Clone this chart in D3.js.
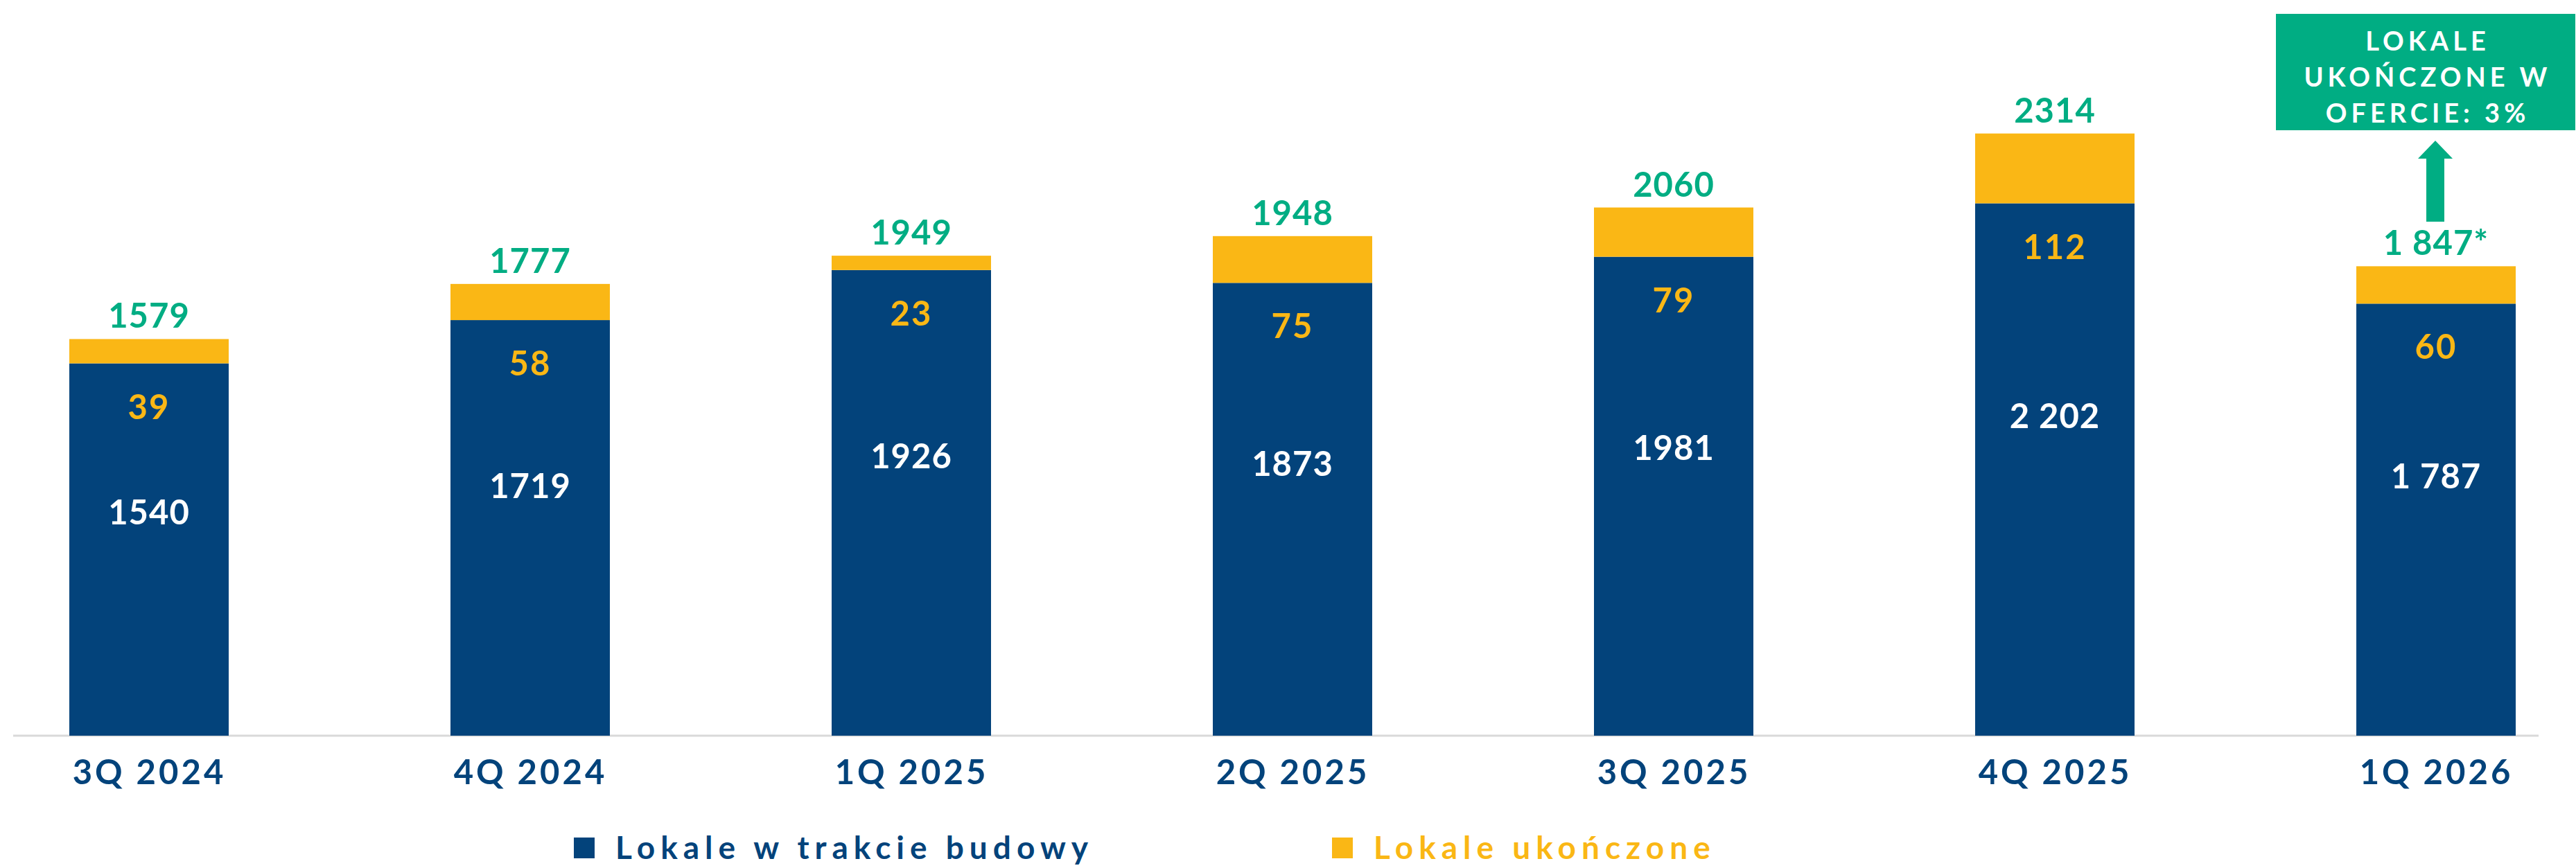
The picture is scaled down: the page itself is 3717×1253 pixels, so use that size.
<!DOCTYPE html>
<html>
<head>
<meta charset="utf-8">
<script src="https://cdn.jsdelivr.net/npm/d3@7"></script>
<style>
  body { margin: 0; background: #fff; }
  svg { display: block; font-family: Lato, "Noto Sans", sans-serif; font-weight: 700; }
</style>
</head>
<body>
<div id="chart"></div>
<script>
const categories = ["3Q 2024", "4Q 2024", "1Q 2025", "2Q 2025", "3Q 2025", "4Q 2025", "1Q 2026"];
const inProgress = [1540, 1719, 1926, 1873, 1981, 2202, 1787];
const completed = [39, 58, 23, 75, 79, 112, 60];
const totals = [1579, 1777, 1949, 1948, 2060, 2314, 1847];
const inProgressLabels = ["1540", "1719", "1926", "1873", "1981", "2 202", "1 787"];
const totalLabels = ["1579", "1777", "1949", "1948", "2060", "2314", "1 847*"];
const legendLabels = ["Lokale w trakcie budowy", "Lokale ukończone"];
const noteLines = ["LOKALE", "UKOŃCZONE W", "OFERCIE: 3%"];

const NAVY = "#03437b";
const YELLOW = "#fab715";
const GREEN = "#00ad83";

const width = 3717;
const height = 1253;
const baseY = 1062;
const barW = 230;

const svg = d3.select("#chart")
    .append("svg")
    .attr("width", width)
    .attr("height", height);

const data = categories.map((c, i) => ({
    cat: c,
    blue: inProgress[i],
    done: completed[i],
    total: totals[i],
    blueLabel: inProgressLabels[i],
    totalLabel: totalLabels[i]
}));

const x = d3.scalePoint()
    .domain(categories)
    .range([215, 3515]);

const y = d3.scaleLinear()
    .domain([0, 3000])
    .range([baseY, 15]);

// the completed segment is drawn enlarged, as in the original slide
const yDone = d3.scaleLinear()
    .domain([0, 100])
    .range([0, 90]);

// axis line
svg.append("line")
    .attr("x1", 19).attr("x2", 3663)
    .attr("y1", baseY).attr("y2", baseY)
    .attr("stroke", "#d9d9d9")
    .attr("stroke-width", 3);

const bars = svg.selectAll("g.bar")
    .data(data)
    .enter()
    .append("g")
    .attr("class", "bar");

bars.append("rect")
    .attr("x", d => x(d.cat) - barW / 2)
    .attr("y", d => y(d.blue))
    .attr("width", barW)
    .attr("height", d => baseY - y(d.blue))
    .attr("fill", NAVY);

bars.append("rect")
    .attr("x", d => x(d.cat) - barW / 2)
    .attr("y", d => y(d.blue) - yDone(d.done))
    .attr("width", barW)
    .attr("height", d => yDone(d.done))
    .attr("fill", YELLOW);

// total labels
bars.append("text")
    .attr("x", d => x(d.cat))
    .attr("y", d => y(d.blue) - yDone(d.done) - 16)
    .attr("text-anchor", "middle")
    .attr("fill", GREEN)
    .style("font-size", "49px")
    .style("letter-spacing", "1px")
    .text(d => d.totalLabel);

// completed labels
bars.append("text")
    .attr("x", d => x(d.cat))
    .attr("y", d => y(d.blue) + 80)
    .attr("text-anchor", "middle")
    .attr("fill", YELLOW)
    .style("font-size", "49px")
    .style("letter-spacing", "2px")
    .text(d => d.done);

// in-progress labels
bars.append("text")
    .attr("x", d => x(d.cat))
    .attr("y", d => baseY - 0.6 * (baseY - y(d.blue)) + 17)
    .attr("text-anchor", "middle")
    .attr("fill", "#fff")
    .style("font-size", "49px")
    .style("letter-spacing", "1px")
    .text(d => d.blueLabel);

// category axis
const axis = svg.append("g")
    .attr("transform", `translate(0, ${baseY})`)
    .call(d3.axisBottom(x).tickSize(0).tickPadding(35));
axis.select(".domain").remove();
axis.selectAll("text")
    .attr("fill", NAVY)
    .style("font-family", "Lato, 'Noto Sans', sans-serif")
    .style("font-weight", 700)
    .style("font-size", "49px")
    .style("letter-spacing", "4px");

// legend
const legendX = [828, 1922];
const legendColors = [NAVY, YELLOW];
const legend = svg.selectAll("g.legend")
    .data(legendLabels)
    .enter()
    .append("g")
    .attr("class", "legend")
    .attr("transform", (d, i) => `translate(${legendX[i]}, 1209)`);

legend.append("rect")
    .attr("width", 30)
    .attr("height", 30)
    .attr("fill", (d, i) => legendColors[i]);

legend.append("text")
    .attr("x", 60)
    .attr("y", 31)
    .attr("fill", (d, i) => legendColors[i])
    .style("font-size", "46px")
    .style("letter-spacing", "8px")
    .text(d => d);

// annotation box + arrow above the last bar
const lastX = x(categories[categories.length - 1]);
const boxW = 432, boxCx = lastX - 15;
svg.append("rect")
    .attr("x", boxCx - boxW / 2)
    .attr("y", 20)
    .attr("width", boxW)
    .attr("height", 168)
    .attr("fill", GREEN);

svg.selectAll("text.note")
    .data(noteLines)
    .enter()
    .append("text")
    .attr("class", "note")
    .attr("x", boxCx + 3)
    .attr("y", (d, i) => 73 + i * 52)
    .attr("text-anchor", "middle")
    .attr("fill", "#fff")
    .style("font-size", "38px")
    .style("letter-spacing", "6px")
    .text(d => d);

const ax = lastX - 1;
svg.append("path")
    .attr("d", `M${ax},203 L${ax + 25},229 L${ax + 13},229 L${ax + 13},320 L${ax - 13},320 L${ax - 13},229 L${ax - 25},229 Z`)
    .attr("fill", GREEN);
</script>
</body>
</html>
